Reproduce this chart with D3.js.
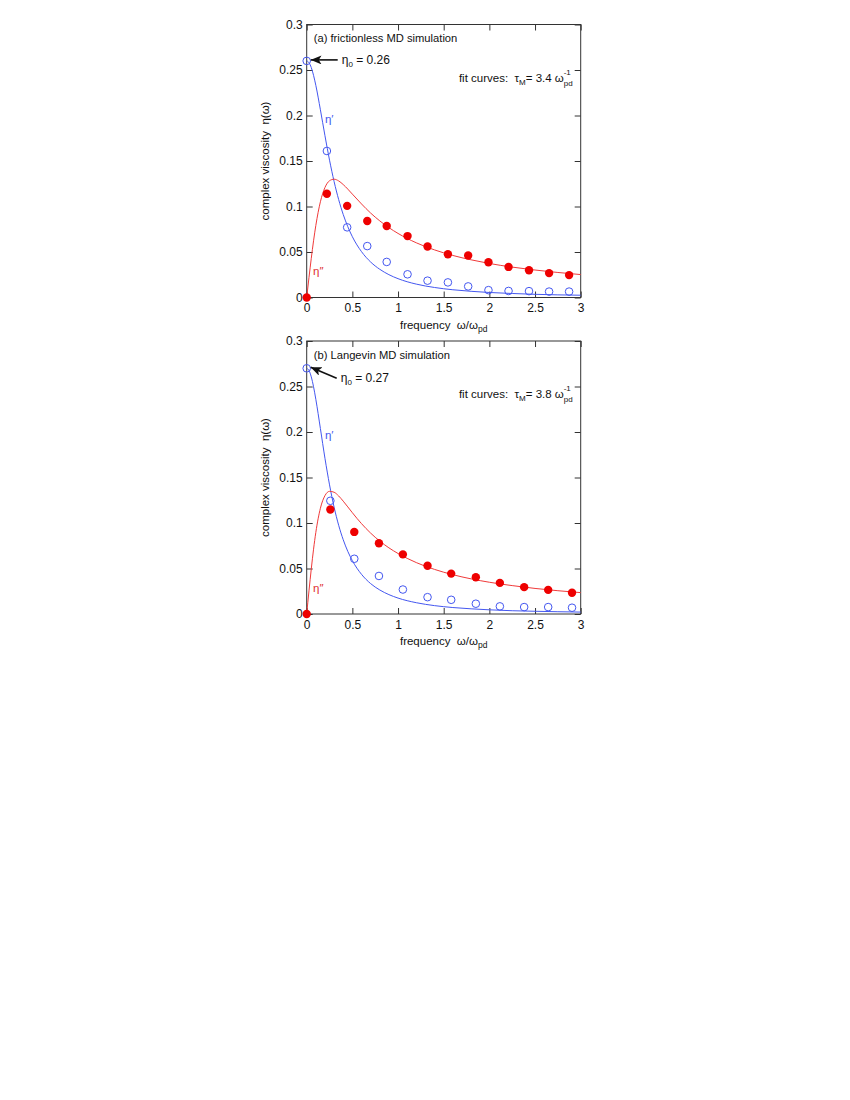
<!DOCTYPE html>
<html>
<head>
<meta charset="utf-8">
<script src="https://cdn.jsdelivr.net/npm/d3@7"></script>
<style>
  body { margin: 0; background: #fff; }
  svg { font-family: "Liberation Sans", Arial, sans-serif; }
</style>
</head>
<body>
<svg id="chart" width="850" height="1100"></svg>
<script>
// ---- data ----
const xTicks = [0, 0.5, 1, 1.5, 2, 2.5, 3];
const yTicks = [0, 0.05, 0.1, 0.15, 0.2, 0.25, 0.3];

// panel (a) frictionless
const aFreq = [0, 0.221, 0.443, 0.663, 0.876, 1.104, 1.323, 1.546, 1.768, 1.99, 2.21, 2.434, 2.654, 2.873];
const aEtaLoss = [0, 0.114, 0.1007, 0.0841, 0.0786, 0.0675, 0.0561, 0.0476, 0.0462, 0.0387, 0.0336, 0.0299, 0.0268, 0.0246];
const aEtaStore = [0.26, 0.161, 0.0771, 0.0565, 0.0391, 0.0255, 0.0185, 0.0166, 0.0122, 0.0081, 0.0072, 0.0070, 0.0065, 0.0065];

// panel (b) Langevin
const bFreq = [0, 0.259, 0.521, 0.791, 1.053, 1.323, 1.582, 1.852, 2.115, 2.381, 2.644, 2.905];
const bEtaLoss = [0, 0.1149, 0.0902, 0.0778, 0.0655, 0.0531, 0.0444, 0.0404, 0.0342, 0.0295, 0.0265, 0.0233];
const bEtaStore = [0.27, 0.1244, 0.0607, 0.0418, 0.0269, 0.0185, 0.0156, 0.0113, 0.0084, 0.0076, 0.0076, 0.0069];

// fit curves (sampled from the drawn lines)
const fitFreq = [0, 0.025, 0.05, 0.075, 0.1, 0.15, 0.2, 0.25, 0.3, 0.35, 0.4, 0.45, 0.5, 0.6, 0.7, 0.8, 0.9, 1.0, 1.2, 1.4, 1.6, 1.8, 2.0, 2.25, 2.5, 2.75, 3.0];
const aFitStore = [0.26, 0.2581, 0.2527, 0.2441, 0.2331, 0.2063, 0.1778, 0.1509, 0.1274, 0.1076, 0.0912, 0.0778, 0.0668, 0.0504, 0.0390, 0.0310, 0.0251, 0.0207, 0.0147, 0.0110, 0.0085, 0.0068, 0.0055, 0.0044, 0.0035, 0.0029, 0.0025];
const aFitLoss = [0, 0.0219, 0.0430, 0.0623, 0.0792, 0.1052, 0.1209, 0.1283, 0.1300, 0.1281, 0.1241, 0.1191, 0.1136, 0.1028, 0.0928, 0.0842, 0.0768, 0.0704, 0.0601, 0.0523, 0.0462, 0.0414, 0.0374, 0.0334, 0.0302, 0.0275, 0.0252];
const bFitStore = [0.27, 0.2676, 0.2606, 0.2497, 0.2359, 0.2038, 0.1711, 0.1419, 0.1174, 0.0975, 0.0816, 0.0688, 0.0586, 0.0436, 0.0334, 0.0264, 0.0213, 0.0175, 0.0124, 0.0092, 0.0071, 0.0057, 0.0046, 0.0036, 0.0030, 0.0025, 0.0021];
const bFitLoss = [0, 0.0254, 0.0495, 0.0712, 0.0897, 0.1162, 0.1301, 0.1348, 0.1338, 0.1297, 0.1240, 0.1177, 0.1113, 0.0993, 0.0889, 0.0801, 0.0727, 0.0665, 0.0565, 0.0490, 0.0432, 0.0386, 0.0349, 0.0312, 0.0281, 0.0256, 0.0235];

const panels = [
  { top: 24.5, title: "(a) frictionless MD simulation", eta0: "0.26", tau: "3.4",
    freq: aFreq, loss: aEtaLoss, store: aEtaStore, fitStore: aFitStore, fitLoss: aFitLoss,
    arrowFrom: [27, 0], storeLabel: [0.2, 0.192], lossLabel: [0.07, 0.025] },
  { top: 341, title: "(b) Langevin MD simulation", eta0: "0.27", tau: "3.8",
    freq: bFreq, loss: bEtaLoss, store: bEtaStore, fitStore: bFitStore, fitLoss: bFitLoss,
    arrowFrom: [26, 11], storeLabel: [0.2, 0.192], lossLabel: [0.07, 0.024] }
];

const BLUE = "#4457f0";
const RED = "#ee0000";
const left = 306.7, width = 274, height = 273;

const svg = d3.select("#chart");

svg.append("defs")
  .append("marker")
  .attr("id", "arrowhead")
  .attr("viewBox", "0 0 12 10")
  .attr("refX", 12).attr("refY", 5)
  .attr("markerWidth", 11).attr("markerHeight", 9)
  .attr("markerUnits", "userSpaceOnUse")
  .attr("orient", "auto")
  .append("path")
  .attr("d", "M0,0 L12,5 L0,10 L3,5 Z")
  .attr("fill", "#111");

function drawPanel(p) {
  const x = d3.scaleLinear().domain([0, 3]).range([0, width]);
  const y = d3.scaleLinear().domain([0, 0.3]).range([height, 0]);

  const g = svg.append("g").attr("transform", `translate(${left},${p.top})`);

  // axes, ticks pointing inwards on all sides
  const fmt = d => d === 0 ? "0" : String(d);
  const styleAxis = sel => {
    sel.select(".domain").remove();
    sel.selectAll(".tick line").attr("stroke", "#333");
    sel.selectAll("text").attr("fill", "#111").style("font-size", "12px");
  };
  g.append("g").attr("transform", `translate(0,${height})`)
    .call(d3.axisBottom(x).tickValues(xTicks).tickFormat(fmt).tickSize(-6).tickPadding(6))
    .call(styleAxis);
  g.append("g")
    .call(d3.axisTop(x).tickValues(xTicks).tickFormat("").tickSize(-6))
    .call(styleAxis);
  g.append("g")
    .call(d3.axisLeft(y).tickValues(yTicks).tickFormat(fmt).tickSize(-6).tickPadding(4))
    .call(styleAxis);
  g.append("g").attr("transform", `translate(${width},0)`)
    .call(d3.axisRight(y).tickValues(yTicks).tickFormat("").tickSize(-6))
    .call(styleAxis);

  g.append("rect")
    .attr("width", width).attr("height", height)
    .attr("fill", "none").attr("stroke", "#333").attr("stroke-width", 1);

  // fit curves
  const line = d3.line().x(d => x(d[0])).y(d => y(d[1])).curve(d3.curveMonotoneX);
  g.append("path")
    .datum(fitFreq.map((f, i) => [f, p.fitStore[i]]))
    .attr("d", line).attr("fill", "none").attr("stroke", BLUE).attr("stroke-width", 1);
  g.append("path")
    .datum(fitFreq.map((f, i) => [f, p.fitLoss[i]]))
    .attr("d", line).attr("fill", "none").attr("stroke", "#f03a3a").attr("stroke-width", 1);

  // simulation points
  g.selectAll(".store")
    .data(p.freq.map((f, i) => [f, p.store[i]]))
    .join("circle")
    .attr("class", "store")
    .attr("cx", d => x(d[0])).attr("cy", d => y(d[1]))
    .attr("r", 3.8)
    .attr("fill", "none").attr("stroke", BLUE).attr("stroke-width", 1);
  g.selectAll(".loss")
    .data(p.freq.map((f, i) => [f, p.loss[i]]))
    .join("circle")
    .attr("class", "loss")
    .attr("cx", d => x(d[0])).attr("cy", d => y(d[1]))
    .attr("r", 4.2)
    .attr("fill", RED);

  // texts
  g.append("text")
    .attr("x", 7).attr("y", 17.5)
    .style("font-size", "11.2px").attr("fill", "#111")
    .text(p.title);

  const tipX = x(0) + 4, tipY = y(p.store[0]) - 1;
  g.append("line")
    .attr("x1", tipX + p.arrowFrom[0]).attr("y1", tipY + p.arrowFrom[1])
    .attr("x2", tipX).attr("y2", tipY)
    .attr("stroke", "#111").attr("stroke-width", 1.6)
    .attr("marker-end", "url(#arrowhead)");

  const e0 = g.append("text")
    .attr("x", tipX + p.arrowFrom[0] + 4).attr("y", tipY + p.arrowFrom[1] + 4)
    .style("font-size", "12px").attr("fill", "#111");
  e0.append("tspan").text("η");
  e0.append("tspan").attr("dy", 3).style("font-size", "8px").text("0");
  e0.append("tspan").attr("dy", -3).text(" = " + p.eta0);

  const fit = g.append("text")
    .attr("x", width - 8).attr("y", 57)
    .attr("text-anchor", "end")
    .style("font-size", "11.5px").attr("fill", "#111");
  fit.append("tspan").text("fit curves:\u00a0 τ");
  fit.append("tspan").attr("dy", 3).style("font-size", "8px").text("M");
  fit.append("tspan").attr("dy", -3).text("= " + p.tau + " ω");
  fit.append("tspan").attr("dy", 4).style("font-size", "8px").text("pd");
  fit.append("tspan").attr("dx", -9).attr("dy", -11).style("font-size", "8px").text("-1");

  g.append("text")
    .attr("x", x(p.storeLabel[0])).attr("y", y(p.storeLabel[1]))
    .style("font-size", "11.5px").attr("fill", BLUE)
    .text("η′");
  g.append("text")
    .attr("x", x(p.lossLabel[0])).attr("y", y(p.lossLabel[1]))
    .style("font-size", "11.5px").attr("fill", "#e03030")
    .text("η″");

  // axis titles
  const xt = g.append("text")
    .attr("x", width / 2).attr("y", height + 31)
    .attr("text-anchor", "middle")
    .style("font-size", "11.5px").attr("fill", "#111");
  xt.append("tspan").text("frequency\u00a0\u00a0ω/ω");
  xt.append("tspan").attr("dy", 3).style("font-size", "8.5px").text("pd");

  g.append("text")
    .attr("transform", `translate(-38,${height / 2}) rotate(-90)`)
    .attr("text-anchor", "middle")
    .style("font-size", "11.5px").attr("fill", "#111")
    .text("complex viscosity\u00a0\u00a0η(ω)");
}

panels.forEach(drawPanel);
</script>
</body>
</html>
